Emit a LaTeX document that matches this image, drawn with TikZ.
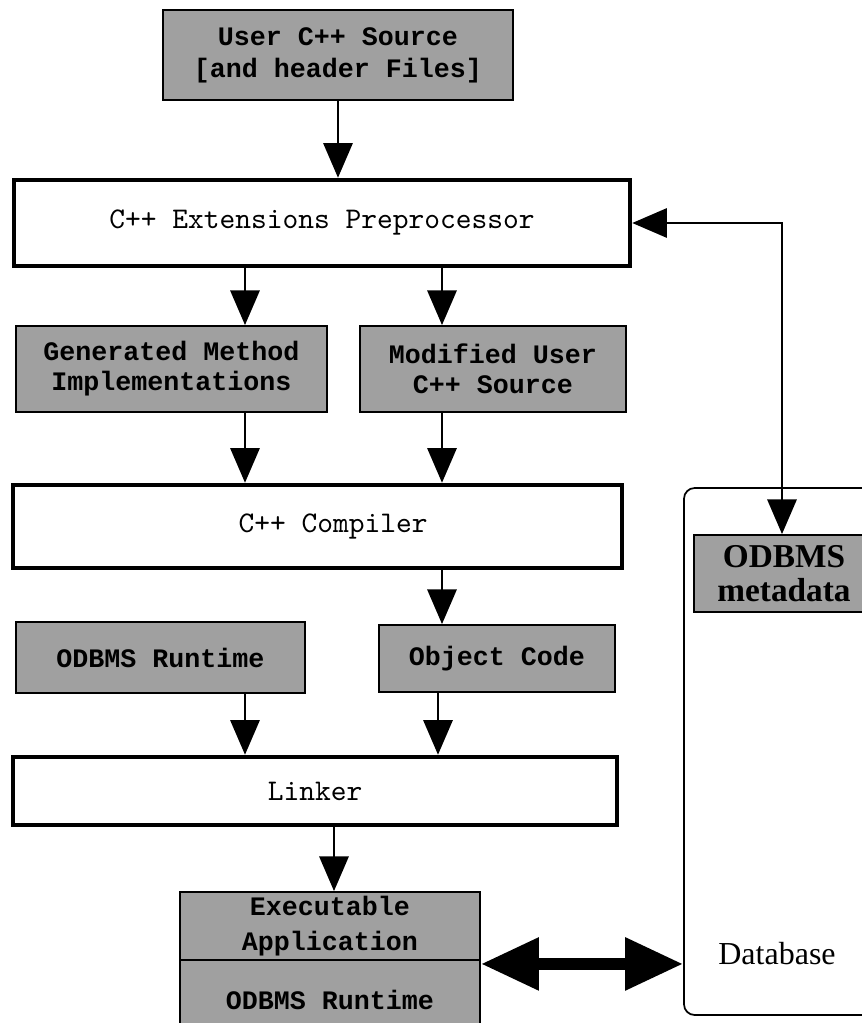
\documentclass[tikz,border=0pt]{standalone}
\usepackage{fontspec}
\setmonofont{Liberation Mono}
\newfontfamily\typewriter{lmmono10-regular.otf}
\newfontfamily\dbfont{Liberation Serif}
\usetikzlibrary{arrows.meta}
\definecolor{boxgray}{RGB}{160,160,160}
\begin{document}
\begin{tikzpicture}[x=0.75pt,y=-0.75pt,
  graybox/.style={draw=black, line width=1.4pt, fill=boxgray, inner sep=0pt,
    align=center, font=\ttfamily\bfseries\fontsize{20}{22.5}\selectfont},
  stagebox/.style={draw=black, line width=3.4pt, fill=white, inner sep=0pt,
    align=center, font=\typewriter\fontsize{22.5}{26}\selectfont},
  stagetext/.style={inner sep=0pt, font=\typewriter\fontsize{22.5}{26}\selectfont},
  flow/.style={line width=1.5pt, -{Triangle[length=26pt,width=22pt]}},
  twoway/.style={line width=1.5pt,
    {Triangle[length=26pt,width=22pt]}-{Triangle[length=26pt,width=22pt]}},
  fatway/.style={line width=9pt,
    {Triangle[length=43.5pt,width=37.5pt]}-{Triangle[length=43.5pt,width=37.5pt]}},
]
\clip (0,0) rectangle (862,1023);
\fill[white] (0,0) rectangle (862,1023);

% arrow columns
\coordinate (c1) at (245,0);
\coordinate (c2) at (442,0);
\coordinate (c3) at (438,0);
\coordinate (c4) at (334,0);
\coordinate (c5) at (782,0);

% database container with its metadata
\node[draw=black, line width=1.3pt, rounded corners=8pt, fill=white,
  minimum width=154.5pt, minimum height=395.25pt] (db) at (787,751.5) {};
\node[font=\dbfont\fontsize{24}{28}\selectfont, inner sep=0pt] (dblabel) at (777,954) {Database};
\node[graybox, minimum width=135pt, minimum height=57.75pt,
  font=\dbfont\bfseries\fontsize{25}{25}\selectfont] (meta) at (784,573.5) {ODBMS\\metadata};

% build pipeline
\node[graybox, minimum width=262.5pt, minimum height=67.5pt,
  font=\ttfamily\bfseries\fontsize{20}{24}\selectfont] (src) at (338,55)
  {User C++ Source\\{[}and header Files{]}};
\node[stagebox, minimum width=462pt, minimum height=64.5pt] (pre) at (322,223)
  {C++ Extensions Preprocessor};
\node[graybox, minimum width=233.25pt, minimum height=64.5pt] (gen) at (171.5,369)
  {Generated Method\\Implementations};
\node[graybox, minimum width=199.5pt, minimum height=64.5pt] (mod) at (493,369)
  {Modified User\\C++ Source};
\node[stagebox, minimum width=456.75pt, minimum height=62.25pt] (comp) at (317.5,526.5) {};
\node[stagetext] (comptext) at (333,526.5) {C++ Compiler};
\node[graybox, minimum width=216.75pt, minimum height=53.25pt] (run) at (160.5,657.5)
  {ODBMS Runtime};
\node[graybox, minimum width=177pt, minimum height=50.25pt] (obj) at (497,658.5)
  {Object Code};
\node[stagebox, minimum width=453pt, minimum height=51pt] (link) at (315,791)
  {Linker};
\node[graybox, minimum width=225pt, minimum height=51pt,
  font=\ttfamily\bfseries\fontsize{20}{26}\selectfont] (exeA) at (330,926)
  {Executable\\Application};
\node[graybox, minimum width=225pt, minimum height=60pt] (exeB) at (330,1000)
  {ODBMS Runtime};

% connectors
\draw[flow] (src.south) -- (src.south |- pre.north);
\draw[flow] (pre.south -| c1) -- (gen.north -| c1);
\draw[flow] (pre.south -| c2) -- (mod.north -| c2);
\draw[flow] (gen.south -| c1) -- (comp.north -| c1);
\draw[flow] (mod.south -| c2) -- (comp.north -| c2);
\draw[flow] (comp.south -| c2) -- (obj.north -| c2);
\draw[flow] (run.south -| c1) -- (link.north -| c1);
\draw[flow] (obj.south -| c3) -- (link.north -| c3);
\draw[flow] (link.south -| c4) -- (exeA.north -| c4);
\draw[twoway] (pre.east) -| (meta.north -| c5);
\draw[fatway] ([yshift=-2.25pt]exeA.south east) -- ([yshift=-2.25pt]exeA.south east -| db.west);
\end{tikzpicture}
\end{document}
